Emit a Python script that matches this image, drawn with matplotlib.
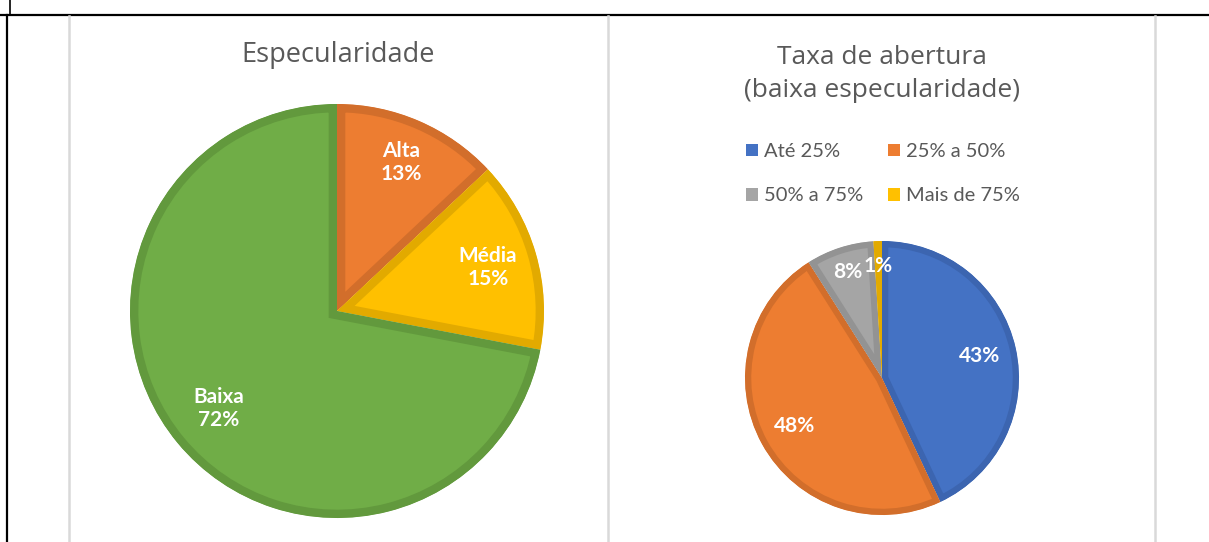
import numpy as np
import matplotlib.pyplot as plt
from matplotlib.patches import Patch
from matplotlib.lines import Line2D

# Dados
espec_labels = ['Alta', 'Média', 'Baixa']
espec_values = [13, 15, 72]
espec_colors = ['#ED7D31', '#FFC000', '#70AD47']
espec_edges = ['#D26E2B', '#E2AA00', '#62993D']

taxa_labels = ['Até 25%', '25% a 50%', '50% a 75%', 'Mais de 75%']
taxa_values = [43, 48, 8, 1]
taxa_colors = ['#4472C4', '#ED7D31', '#A5A5A5', '#FFC000']
taxa_edges = ['#3C65B0', '#D26E2B', '#939393', '#E2AA00']

W, H = 1209, 542
fig = plt.figure(figsize=(W / 100, H / 100), dpi=100)
fig.patch.set_facecolor('white')

# moldura (linhas pretas e divisórias cinzentas)
fig.add_artist(Line2D([0, 1], [1 - 14.5 / H, 1 - 14.5 / H], color='black', lw=1.6))
fig.add_artist(Line2D([7 / W, 7 / W], [0, 1 - 14.5 / H], color='black', lw=1.6))
fig.add_artist(Line2D([9.5 / W, 9.5 / W], [1 - 14.5 / H, 1], color='black', lw=1.2))
for xp in [69, 608, 1155]:
    fig.add_artist(Line2D([xp / W, xp / W], [0, 1 - 16 / H], color='#D9D9D9', lw=1.8))


def pie_axes(cx, cy, r, lim=1.1):
    side = 2 * r * lim
    ax = fig.add_axes([(cx - side / 2) / W, (H - cy - side / 2) / H, side / W, side / H])
    return ax


def draw_pie(ax, values, colors, edges, lw, lim=1.1):
    wedges, _ = ax.pie(values, colors=colors, startangle=90, counterclock=False,
                       wedgeprops=dict(linewidth=0))
    for w, ec in zip(wedges, edges):
        w.set_edgecolor(ec)
        w.set_linewidth(lw)
        w.set_clip_on(True)
        w.set_clip_path(w)
    ax.set_xlim(-lim, lim)
    ax.set_ylim(-lim, lim)
    ax.set_aspect('equal')
    return wedges


def place_labels(ax, wedges, texts, dists):
    for w, t, d in zip(wedges, texts, dists):
        ang = np.deg2rad((w.theta1 + w.theta2) / 2)
        ax.text(d * np.cos(ang), d * np.sin(ang), t, ha='center', va='center',
                color='white', fontsize=15, fontweight='bold', family='Lato',
                linespacing=1.2)


# Gráfico 1
ax1 = pie_axes(337, 311, 207)
w1 = draw_pie(ax1, espec_values, espec_colors, espec_edges, 12)
place_labels(ax1, w1, [f'{l}\n{v}%' for l, v in zip(espec_labels, espec_values)],
             [0.78, 0.76, 0.74])
fig.text(338 / W, 1 - 55 / H, 'Especularidade', ha='center', va='center',
         fontsize=19.5, color='#595959', family='Open Sans')

# Gráfico 2
ax2 = pie_axes(882, 378, 137)
w2 = draw_pie(ax2, taxa_values, taxa_colors, taxa_edges, 9)
place_labels(ax2, w2, [f'{v}%' for v in taxa_values], [0.73, 0.73, 0.81, 0.82])
fig.text(882 / W, 1 - 74 / H, 'Taxa de abertura\n(baixa especularidade)', ha='center',
         va='center', fontsize=19, color='#595959', family='Open Sans', linespacing=1.45)

order = [0, 2, 1, 3]
handles = [Patch(facecolor=taxa_colors[i], edgecolor='none') for i in order]
fig.legend(handles, [taxa_labels[i] for i in order], loc='upper left',
           bbox_to_anchor=(728 / W, 1 - 125 / H), ncol=2, frameon=False,
           handlelength=0.6, handleheight=0.6, handletextpad=0.3, columnspacing=1.2,
           labelspacing=1.35, prop={'family': 'Lato', 'size': 14.5}, labelcolor='#595959')

fig.savefig('out.png', dpi=100, facecolor='white')
